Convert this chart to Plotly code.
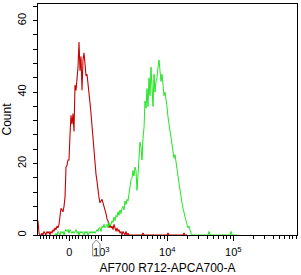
import numpy as np
import plotly.graph_objects as go

# ---------------- data (histogram counts per display channel) ----------------
red_start = 0
red_counts = [4, 0.5, 0, 0, 0.5, 0, 1, 0.3, 0, 1, 0.5, 1, 0, 1, 0.5, 1.5, 1, 2, 1.5, 2.5,
              2, 3, 6, 7.5, 7, 6.5, 8, 10.5, 19, 19.5, 21, 21, 28, 33.5, 31, 34, 29, 42, 40.5, 43,
              47, 54, 46, 50, 40.5, 49, 51, 48, 44.5, 45, 41.5, 38, 37, 34, 30, 27.5, 25, 21, 17, 15,
              12, 10.5, 9, 9.5, 10, 9, 8, 7.5, 6, 4.5, 4, 2, 3, 2, 2.5, 1.5, 3, 2, 1, 2,
              1, 1.5, 0.5, 1, 0, 1, 0.5, 0, 1, 0, 0.5, 0, 0, 0, 0, 0, 0, 0, 0, 0,
              0, 0, 0, 0, 0, 0.6, 0, 0, 0, 0, 0, 0, 0, 0, 0, 0, 0, 0, 0, 0,
              0, 0, 0, 0, 0, 0, 0, 0, 0, 0, 0.6, 0, 0, 0, 0, 0, 0, 0, 0, 0,
              0, 0, 0, 0, 0, 0, 0.6, 0, 0, 0]

green_start = 17
green_counts = [0, 0.5, 0, 1, 0.5, 0, 1, 0.5, 1, 0, 1, 1.5, 1, 1.5, 0.5, 1.5, 1, 0.5, 1, 0.5,
                1, 1.5, 0.5, 1, 0, 1, 0.5, 1, 0.5, 0, 1, 0.5, 1, 0, 0.5, 1, 0.5, 1, 0.5, 1,
                0.5, 1, 1.5, 1, 2,
                2, 1, 2.5, 2, 3, 2, 2.5, 3, 2, 3.5, 2.5, 3, 4, 3.5, 5, 4, 5.5, 5, 6.5, 5.5,
                7, 6, 7.5, 8, 7, 9.5, 8.5, 10, 9.5, 12, 14, 15.5, 16, 18, 16.5, 19, 18, 12.5, 17, 22,
                26, 24.5, 21, 27, 30, 37.5, 35.5, 41, 36, 44, 39, 47, 41, 36, 45, 40, 43, 44, 47, 49,
                46, 43, 45, 42, 39, 40, 38.5, 36, 33, 31, 29, 27, 25, 23, 21.5, 22.5, 20, 18, 16.5, 14.5,
                12.5, 9.5, 9, 7.5, 6, 5, 4, 3, 2, 2.5, 1, 0.5, 0, 0, 0, 0, 0, 0, 0, 0,
                0, 0, 0, 0, 0, 0, 0, 0, 0, 1, 0, 0, 0, 0, 0, 0, 0, 0, 0, 0,
                0, 0, 0, 0, 0, 0, 0, 0, 0, 0, 0, 1, 0, 0, 0, 0, 0, 0]

major_values = [0, 1e3, 1e4, 1e5]
major_labels = ["0", "10<sup>3</sup>", "10<sup>4</sup>", "10<sup>5</sup>"]
minor_values = ([-100 * k for k in range(1, 10)] + [100 * k for k in range(1, 10)] +
                [1000 * k for k in range(2, 10)] + [10000 * k for k in range(2, 10)] +
                [100000 * k for k in range(2, 10)])
marker_value = 840

x_title = "AF700 R712-APCA700-A"
y_title = "Count"

# ---------------- display transform (linear near zero, log above) ----------------
CH_ZERO = 31.3
CH_PER_DECADE = 66.0
LIN_LIMIT = 890.0
CH_MAX = 259.0


def to_channel(v):
    b = CH_PER_DECADE / np.log(10)
    v = np.asarray(v, dtype=float)
    out = CH_ZERO + b * v / LIN_LIMIT
    hi = v > LIN_LIMIT
    lo = v < -LIN_LIMIT
    out = np.where(hi, CH_ZERO + b + b * np.log(np.maximum(v, 1e-9) / LIN_LIMIT), out)
    out = np.where(lo, CH_ZERO - b - b * np.log(np.maximum(-v, 1e-9) / LIN_LIMIT), out)
    return out


major_pos = to_channel(major_values)
minor_pos = [p for p in to_channel(minor_values) if 0 <= p <= CH_MAX]

red_x = np.arange(len(red_counts)) + red_start
green_x = np.arange(len(green_counts)) + green_start

fig = go.Figure()
fig.add_trace(go.Scatter(x=red_x, y=red_counts, mode="lines",
                         line=dict(color="#c80000", width=1.1), showlegend=False))
fig.add_trace(go.Scatter(x=green_x, y=green_counts, mode="lines",
                         line=dict(color="#22e622", width=1), showlegend=False))

mx = float(to_channel(marker_value))
fig.add_shape(type="path", xref="x", yref="paper", xsizemode="pixel", ysizemode="pixel",
              xanchor=mx, yanchor=0,
              path="M 0,-5 L 3.7,-9 L 3.7,-21 L -3.7,-21 L -3.7,-9 Z",
              line=dict(color="#8c8c8c", width=1), fillcolor="rgba(0,0,0,0)", layer="above")

font = dict(family="Liberation Sans, Arial, sans-serif", color="black", size=11)

fig.update_layout(
    width=301, height=275,
    margin=dict(l=38, r=4, t=4, b=40, autoexpand=False),
    paper_bgcolor="white", plot_bgcolor="white",
    font=font,
    xaxis=dict(range=[0, CH_MAX], showgrid=False, zeroline=False, automargin=False,
               showline=True, linecolor="black", linewidth=1, mirror=True,
               tickmode="array", tickvals=list(major_pos), ticktext=major_labels,
               ticks="outside", ticklen=5, tickcolor="black", tickwidth=1,
               ticklabelstandoff=2,
               minor=dict(tickmode="array", tickvals=minor_pos, ticks="outside",
                          ticklen=3, tickcolor="black", tickwidth=1, showgrid=False),
               title=dict(text=x_title, font=dict(size=12), standoff=8),
               tickfont=dict(size=11)),
    yaxis=dict(range=[0, 64.67], showgrid=False, zeroline=False, automargin=False,
               showline=True, linecolor="black", linewidth=1, mirror=True,
               tickmode="array", tickvals=[0, 20, 40, 60],
               ticks="outside", ticklen=4, tickcolor="black", tickwidth=1,
               ticklabelstandoff=3,
               minor=dict(dtick=4, ticks="outside", ticklen=4, tickcolor="black",
                          tickwidth=1, showgrid=False),
               tickangle=-90,
               title=dict(text=y_title, font=dict(size=12), standoff=2),
               tickfont=dict(size=11)),
)

fig.write_html("out.html")
